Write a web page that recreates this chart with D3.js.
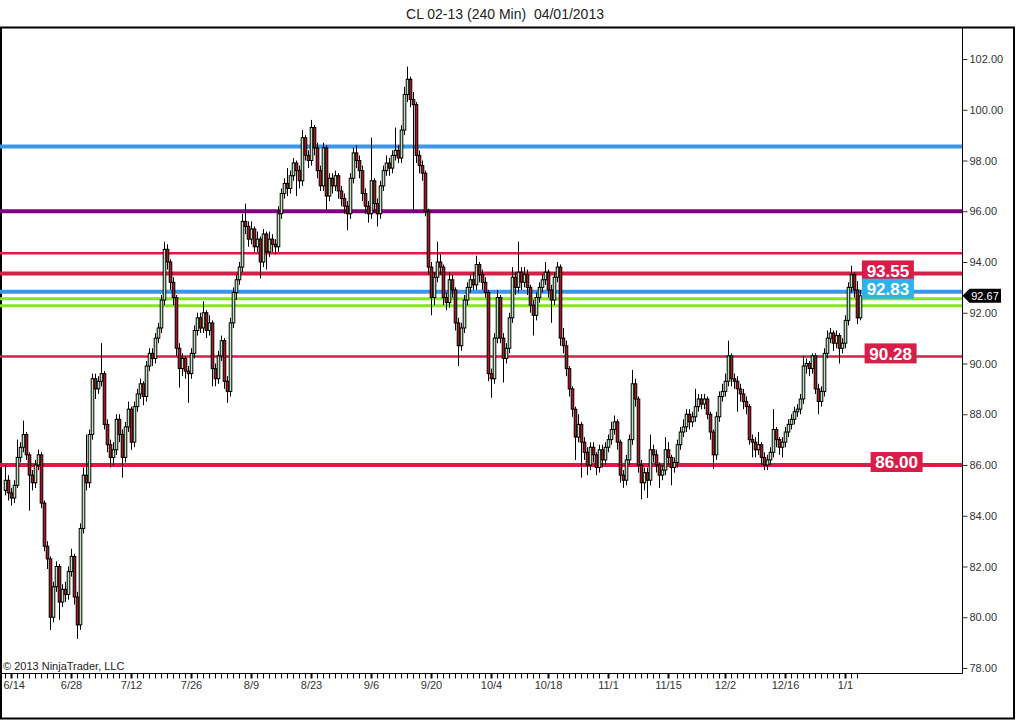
<!DOCTYPE html>
<html>
<head>
<meta charset="utf-8">
<script src="https://cdn.jsdelivr.net/npm/d3@7"></script>
<style>
  body { margin: 0; background: #fff; }
  svg { display: block; font-family: Arial, "Liberation Sans", sans-serif; }
</style>
</head>
<body>
<div id="chart"></div>
<script>
// 240 min bars of CL 02-13 (two bars per day)
var opens = [
  85.0, 85.4, 84.9, 84.7, 85.2, 86.3, 86.7, 87.2, 86.4, 85.6,
  85.3, 86.0, 86.4, 84.5, 82.8, 82.3, 80.0, 81.2, 82.0, 80.6,
  81.1, 80.9, 81.8, 82.4, 80.8, 79.7, 83.5, 85.6, 85.3, 87.2,
  89.4, 89.0, 89.3, 89.6, 87.6, 86.8, 86.3, 86.6, 87.8, 87.2,
  86.3, 87.5, 88.2, 86.9, 88.3, 88.8, 89.2, 88.7, 89.9, 90.4,
  90.2, 91.0, 91.4, 92.5, 94.5, 94.0, 93.2, 92.6, 90.6, 89.8,
  90.2, 89.7, 89.6, 90.4, 91.3, 91.8, 91.4, 92.0, 91.3, 91.6,
  89.8, 89.4, 90.3, 90.9, 89.3, 88.9, 91.6, 92.8, 93.3, 93.8,
  95.6, 95.4, 94.9, 95.3, 94.6, 94.9, 94.0, 95.1, 94.4, 94.9,
  94.7, 94.6, 95.9, 96.7, 97.1, 96.9, 97.4, 97.9, 97.6, 97.2,
  98.9, 98.2, 98.0, 99.3, 98.5, 97.6, 97.0, 98.5, 96.6, 97.3,
  97.0, 97.4, 96.8, 96.5, 96.2, 95.9, 97.3, 98.3, 98.0, 97.6,
  96.7, 96.2, 95.9, 97.2, 96.3, 95.9, 97.0, 97.6, 97.9, 97.7,
  98.2, 98.4, 98.1, 99.2, 100.6, 101.2, 100.4, 100.2, 98.2, 97.8,
  97.5, 96.0, 93.8, 92.6, 93.4, 94.0, 93.8, 92.6, 92.4, 93.3,
  92.9, 91.6, 90.7, 91.4, 92.5, 93.0, 93.3, 93.1, 93.9, 93.5,
  93.2, 92.8, 89.6, 89.4, 91.0, 92.6, 91.0, 90.2, 90.6, 91.8,
  93.4, 93.0, 93.6, 93.2, 93.5, 93.0, 92.3, 91.9, 92.6, 93.0,
  93.3, 93.6, 92.9, 92.5, 93.4, 93.8, 91.0, 90.7, 89.8, 89.0,
  88.2, 87.1, 87.6, 86.9, 86.5, 86.0, 86.7, 86.4, 85.9, 86.6,
  86.2, 86.7, 87.0, 87.4, 87.7, 86.9, 85.6, 85.4, 86.2, 87.0,
  89.2, 88.6, 86.0, 85.3, 85.7, 85.4, 86.6, 86.4, 86.0, 85.6,
  85.8, 86.6, 86.3, 85.9, 86.1, 86.8, 87.3, 87.5, 88.0, 87.7,
  87.9, 88.3, 88.6, 88.4, 88.6, 88.0, 87.3, 86.4, 87.9, 88.7,
  88.9, 89.3, 90.3, 89.4, 89.3, 89.0, 88.8, 88.5, 88.3, 87.0,
  86.9, 86.6, 86.8, 86.3, 86.0, 86.2, 86.5, 87.4, 87.0, 86.7,
  86.9, 87.3, 87.6, 87.8, 88.1, 88.2, 88.6, 89.9, 90.0, 89.8,
  90.3, 89.0, 88.5, 88.9, 90.4, 91.0, 91.2, 90.8, 91.1, 90.6,
  90.8, 91.7, 93.0, 93.5, 92.9, 91.8
];
var highs = [
  86.0, 85.6, 85.1, 85.4, 87.0, 86.9, 87.75, 87.3, 86.5, 85.8,
  86.2, 86.6, 86.5, 84.6, 83.0, 82.4, 81.4, 82.2, 82.1, 81.3,
  81.4, 82.0, 82.7, 82.5, 81.0, 83.7, 85.9, 87.2, 87.4, 89.6,
  89.6, 89.5, 90.8, 89.7, 87.8, 87.0, 86.9, 88.0, 88.0, 87.4,
  87.7, 88.5, 88.3, 88.5, 89.0, 89.4, 89.3, 90.1, 90.6, 90.6,
  91.2, 91.6, 92.7, 94.8, 94.7, 94.1, 93.4, 92.7, 90.8, 90.4,
  90.3, 89.9, 90.6, 91.5, 92.0, 92.0, 92.45, 92.1, 91.9, 91.7,
  90.0, 90.5, 91.1, 91.0, 89.5, 91.8, 93.0, 93.5, 94.0, 95.9,
  96.3, 95.6, 95.6, 95.4, 95.2, 95.0, 95.3, 95.2, 95.2, 95.1,
  94.9, 96.2, 96.9, 97.3, 97.7, 97.6, 98.1, 98.0, 97.8, 99.2,
  99.0, 98.4, 99.6, 99.4, 98.7, 97.8, 98.7, 98.6, 97.5, 97.5,
  97.6, 97.5, 97.0, 96.7, 96.4, 97.5, 98.5, 98.6, 98.2, 97.8,
  96.9, 96.4, 98.9, 97.3, 96.5, 97.2, 97.8, 98.2, 98.1, 98.4,
  99.3, 98.6, 99.4, 100.9, 101.7, 101.3, 100.7, 100.3, 98.4, 98.0,
  97.6, 96.1, 94.0, 93.6, 94.8, 94.3, 93.9, 92.8, 93.6, 93.5,
  93.0, 91.8, 91.6, 92.7, 93.2, 93.5, 93.6, 94.25, 94.0, 93.7,
  93.4, 92.9, 89.8, 91.2, 92.9, 92.7, 91.2, 90.8, 92.0, 93.8,
  93.6, 94.8, 93.8, 93.8, 93.7, 93.1, 92.5, 92.8, 93.2, 93.5,
  94.0, 93.7, 93.1, 93.6, 94.0, 93.9, 91.4, 90.9, 89.9, 89.1,
  88.3, 88.0, 87.7, 87.1, 86.7, 86.9, 86.9, 86.5, 86.8, 86.8,
  86.9, 87.2, 87.7, 87.95, 87.8, 87.0, 85.8, 86.4, 87.2, 89.75,
  89.4, 88.7, 86.2, 85.9, 85.9, 87.2, 86.8, 86.6, 86.1, 86.0,
  87.1, 86.9, 86.4, 86.3, 87.0, 87.5, 87.8, 88.2, 88.2, 88.1,
  89.0, 88.8, 88.8, 88.8, 88.7, 88.1, 87.4, 88.1, 88.9, 89.2,
  89.6, 90.9, 90.4, 89.6, 89.5, 89.2, 89.0, 88.7, 88.4, 87.2,
  87.1, 87.3, 86.9, 86.5, 86.4, 86.7, 88.2, 87.5, 87.1, 87.1,
  87.5, 87.8, 88.0, 88.3, 88.4, 88.8, 90.3, 90.2, 90.1, 90.4,
  90.4, 89.2, 89.1, 90.6, 91.3, 91.4, 91.3, 91.3, 91.2, 91.0,
  91.9, 93.2, 93.85, 93.6, 93.25, 92.9
];
var lows = [
  84.8, 84.6, 84.4, 84.5, 85.1, 86.1, 86.5, 86.2, 84.2, 85.0,
  85.1, 85.8, 84.3, 82.6, 81.9, 79.5, 79.8, 81.0, 79.9, 80.4,
  80.6, 80.7, 81.6, 80.5, 79.15, 79.5, 83.3, 85.0, 85.1, 87.0,
  88.6, 88.8, 89.1, 87.4, 86.5, 85.9, 86.0, 86.4, 86.9, 85.5,
  86.1, 87.3, 86.6, 86.7, 88.1, 88.6, 88.35, 88.5, 89.7, 89.9,
  90.0, 90.8, 91.2, 92.3, 93.7, 92.9, 92.3, 90.3, 89.05, 89.5,
  89.4, 88.45, 89.4, 90.2, 91.1, 91.2, 91.2, 91.0, 91.1, 89.1,
  89.1, 89.2, 90.1, 89.0, 88.45, 88.7, 91.4, 92.5, 93.1, 93.6,
  95.1, 94.6, 94.7, 94.4, 94.4, 93.35, 93.8, 93.7, 94.2, 94.4,
  94.3, 94.4, 95.7, 96.5, 96.6, 96.7, 97.2, 96.6, 96.9, 97.0,
  98.0, 97.7, 97.8, 98.2, 97.3, 96.8, 96.8, 96.05, 96.4, 96.7,
  96.8, 96.5, 96.2, 95.9, 95.25, 95.7, 97.1, 97.7, 97.3, 96.4,
  95.9, 95.55, 95.7, 96.0, 95.4, 95.7, 96.8, 97.4, 97.4, 97.5,
  98.0, 97.9, 97.9, 99.0, 100.3, 100.1, 96.0, 97.9, 97.5, 97.2,
  95.8, 93.5, 91.9, 92.3, 93.2, 93.5, 92.3, 92.1, 92.2, 92.6,
  91.3, 89.9, 90.5, 91.2, 92.3, 92.8, 92.9, 92.9, 93.2, 92.9,
  92.6, 89.3, 88.65, 89.2, 90.8, 90.8, 89.25, 90.0, 90.4, 91.6,
  92.7, 92.8, 92.9, 93.0, 92.7, 92.0, 91.1, 91.7, 92.4, 92.8,
  93.1, 92.6, 91.6, 92.3, 93.2, 90.7, 90.4, 89.5, 88.7, 87.9,
  86.2, 86.9, 85.5, 86.2, 85.6, 85.8, 86.1, 85.6, 85.7, 85.9,
  86.0, 86.5, 86.8, 87.2, 86.6, 85.3, 85.1, 85.2, 86.0, 86.8,
  88.3, 85.7, 84.65, 85.0, 84.7, 85.2, 86.1, 85.7, 85.1, 85.4,
  85.6, 86.0, 85.2, 85.7, 85.9, 86.6, 87.1, 87.3, 87.4, 87.5,
  87.7, 88.1, 88.2, 88.2, 87.8, 87.0, 85.85, 86.2, 87.7, 88.5,
  88.7, 89.1, 89.1, 89.0, 88.1, 88.5, 88.2, 88.0, 86.8, 86.3,
  86.3, 86.4, 86.0, 85.8, 85.8, 86.0, 86.3, 86.7, 86.4, 86.3,
  86.7, 87.1, 87.4, 87.6, 87.9, 88.0, 88.4, 89.6, 89.5, 89.6,
  88.8, 88.0, 88.3, 88.7, 90.2, 90.8, 90.5, 90.6, 90.0, 90.4,
  90.6, 91.5, 92.8, 92.6, 91.55, 91.7
];
var closes = [
  85.4, 84.9, 84.7, 85.2, 86.3, 86.7, 87.2, 86.4, 85.6, 85.3,
  86.0, 86.4, 84.5, 82.8, 82.3, 80.0, 81.2, 82.0, 80.6, 81.1,
  80.9, 81.8, 82.4, 80.8, 79.7, 83.5, 85.6, 85.3, 87.2, 89.4,
  89.0, 89.3, 89.6, 87.6, 86.8, 86.3, 86.6, 87.8, 87.2, 86.3,
  87.5, 88.2, 86.9, 88.3, 88.8, 89.2, 88.7, 89.9, 90.4, 90.2,
  91.0, 91.4, 92.5, 94.5, 94.0, 93.2, 92.6, 90.6, 89.8, 90.2,
  89.7, 89.6, 90.4, 91.3, 91.8, 91.4, 92.0, 91.3, 91.6, 89.8,
  89.4, 90.3, 90.9, 89.3, 88.9, 91.6, 92.8, 93.3, 93.8, 95.6,
  95.4, 94.9, 95.3, 94.6, 94.9, 94.0, 95.1, 94.4, 94.9, 94.7,
  94.6, 95.9, 96.7, 97.1, 96.9, 97.4, 97.9, 97.6, 97.2, 98.9,
  98.2, 98.0, 99.3, 98.5, 97.6, 97.0, 98.5, 96.6, 97.3, 97.0,
  97.4, 96.8, 96.5, 96.2, 95.9, 97.3, 98.3, 98.0, 97.6, 96.7,
  96.2, 95.9, 97.2, 96.3, 95.9, 97.0, 97.6, 97.9, 97.7, 98.2,
  98.4, 98.1, 99.2, 100.6, 101.2, 100.4, 100.2, 98.2, 97.8, 97.5,
  96.0, 93.8, 92.6, 93.4, 94.0, 93.8, 92.6, 92.4, 93.3, 92.9,
  91.6, 90.7, 91.4, 92.5, 93.0, 93.3, 93.1, 93.9, 93.5, 93.2,
  92.8, 89.6, 89.4, 91.0, 92.6, 91.0, 90.2, 90.6, 91.8, 93.4,
  93.0, 93.6, 93.2, 93.5, 93.0, 92.3, 91.9, 92.6, 93.0, 93.3,
  93.6, 92.9, 92.5, 93.4, 93.8, 91.0, 90.7, 89.8, 89.0, 88.2,
  87.1, 87.6, 86.9, 86.5, 86.0, 86.7, 86.4, 85.9, 86.6, 86.2,
  86.7, 87.0, 87.4, 87.7, 86.9, 85.6, 85.4, 86.2, 87.0, 89.2,
  88.6, 86.0, 85.3, 85.7, 85.4, 86.6, 86.4, 86.0, 85.6, 85.8,
  86.6, 86.3, 85.9, 86.1, 86.8, 87.3, 87.5, 88.0, 87.7, 87.9,
  88.3, 88.6, 88.4, 88.6, 88.0, 87.3, 86.4, 87.9, 88.7, 88.9,
  89.3, 90.3, 89.4, 89.3, 89.0, 88.8, 88.5, 88.3, 87.0, 86.9,
  86.6, 86.8, 86.3, 86.0, 86.2, 86.5, 87.4, 87.0, 86.7, 86.9,
  87.3, 87.6, 87.8, 88.1, 88.2, 88.6, 89.9, 90.0, 89.8, 90.3,
  89.0, 88.5, 88.9, 90.4, 91.0, 91.2, 90.8, 91.1, 90.6, 90.8,
  91.7, 93.0, 93.5, 92.9, 91.8, 92.67
];

// date labels on the time axis and the bar each one sits under
var dateLabels = ["6/14", "6/28", "7/12", "7/26", "8/9", "8/23", "9/6", "9/20",
                  "10/4", "10/18", "11/1", "11/15", "12/2", "12/16", "1/1"];
var dateBars = [2, 22, 42, 62, 82, 102, 122, 142, 162, 181, 201, 221, 240, 260, 280];

// price axis ticks
var priceTicks = [78, 80, 82, 84, 86, 88, 90, 92, 94, 96, 98, 100, 102];

// horizontal lines drawn on the chart
var levelPrices = [98.55, 96.00, 94.34, 93.55, 92.83, 92.55, 92.28, 90.28, 86.00];
var levelColors = ["#3d95e8", "#800080", "#d81e48", "#d81e48", "#3d95e8",
                   "#86e61e", "#86e61e", "#d81e48", "#d81e48"];
var levelWidths = [4, 4, 2.5, 4, 4, 3, 3, 2.5, 4];

// boxed price tags and the bar they are centred on
var tagPrices = [93.55, 92.83, 90.28, 86.00];
var tagBars = [294.3, 294.3, 295.2, 297.2];
var tagColors = ["#d81e48", "#2eb2ec", "#d81e48", "#d81e48"];

var lastPrice = 92.67;

// set the dimensions of the page and plot
var width = 1016, height = 720;
var plot = {left: 0, right: 962.5, top: 27.5, bottom: 673.5};

var svg = d3.select("#chart").append("svg")
    .attr("width", width)
    .attr("height", height);

// bars are spaced evenly by index, prices linear
var x = d3.scaleLinear().domain([0, closes.length - 1]).range([5, 860]);
var y = d3.scaleLinear().domain([78, 102]).range([668, 59]);

// title
svg.append("text")
    .attr("x", 505)
    .attr("y", 19)
    .attr("text-anchor", "middle")
    .attr("font-size", "14px")
    .attr("fill", "#222")
    .style("white-space", "pre")
    .text("CL 02-13 (240 Min)  04/01/2013");

// outer frame
svg.append("rect")
    .attr("x", 1).attr("y", 27.5)
    .attr("width", 1013).attr("height", 691)
    .attr("fill", "none")
    .attr("stroke", "#000")
    .attr("stroke-width", 2);

var chart = svg.append("g");

// level lines (behind the candles)
chart.selectAll(".level")
    .data(levelPrices)
  .enter().append("line")
    .attr("class", "level")
    .attr("x1", plot.left)
    .attr("x2", plot.right)
    .attr("y1", function(d) { return y(d); })
    .attr("y2", function(d) { return y(d); })
    .attr("stroke", function(d, i) { return levelColors[i]; })
    .attr("stroke-width", function(d, i) { return levelWidths[i]; });

// candles
var bars = d3.range(closes.length);
var candle = chart.selectAll(".candle")
    .data(bars)
  .enter().append("g")
    .attr("class", "candle");

candle.append("line")
    .attr("x1", function(i) { return Math.round(x(i)) + 0.5; })
    .attr("x2", function(i) { return Math.round(x(i)) + 0.5; })
    .attr("y1", function(i) { return y(highs[i]); })
    .attr("y2", function(i) { return y(lows[i]); })
    .attr("stroke", "#000")
    .attr("stroke-width", 1);

candle.append("rect")
    .attr("x", function(i) { return Math.round(x(i)) - 0.8; })
    .attr("width", 2.6)
    .attr("y", function(i) { return y(Math.max(opens[i], closes[i])); })
    .attr("height", function(i) {
        return Math.max(1, Math.abs(y(opens[i]) - y(closes[i])));
    })
    .attr("fill", function(i) { return closes[i] >= opens[i] ? "#bfe6bf" : "#a8161e"; })
    .attr("stroke", "#000")
    .attr("stroke-width", 1);

// price tags
var tag = chart.selectAll(".tag")
    .data(tagPrices)
  .enter().append("g")
    .attr("class", "tag")
    .attr("transform", function(d, i) {
        return "translate(" + x(tagBars[i]) + "," + (y(d) - 3) + ")";
    });

tag.append("rect")
    .attr("x", -26).attr("y", -10)
    .attr("width", 52).attr("height", 20)
    .attr("fill", function(d, i) { return tagColors[i]; });

tag.append("text")
    .attr("text-anchor", "middle")
    .attr("dy", "0.36em")
    .attr("font-size", "17px")
    .attr("font-weight", "bold")
    .attr("fill", "#fff")
    .text(function(d) { return d3.format(".2f")(d); });

// price axis
var yAxis = svg.append("g")
    .attr("transform", "translate(" + plot.right + ",0)")
    .call(d3.axisRight(y)
        .tickValues(priceTicks)
        .tickSize(5)
        .tickPadding(2)
        .tickFormat(d3.format(".2f")));
yAxis.select(".domain").remove();
yAxis.selectAll("text").attr("font-size", "11px").attr("fill", "#333");
yAxis.selectAll("line").attr("stroke", "#333");

svg.append("line")
    .attr("x1", plot.right).attr("x2", plot.right)
    .attr("y1", plot.top).attr("y2", plot.bottom)
    .attr("stroke", "#000");

// last price marker
var yLast = y(lastPrice);
svg.append("path")
    .attr("d", "M" + plot.right + "," + yLast +
               "L" + (plot.right + 7) + "," + (yLast - 7) +
               "L" + 1001 + "," + (yLast - 7) +
               "L" + 1001 + "," + (yLast + 7) +
               "L" + (plot.right + 7) + "," + (yLast + 7) + "Z")
    .attr("fill", "#000");
svg.append("text")
    .attr("x", 985)
    .attr("y", yLast)
    .attr("dy", "0.36em")
    .attr("text-anchor", "middle")
    .attr("font-size", "11px")
    .attr("fill", "#fff")
    .text(d3.format(".2f")(lastPrice));

// time axis: a tick per day, labels every two weeks
var dayBars = d3.range(0, closes.length, 2)
    .filter(function(b) {
        return !dateBars.some(function(d) { return Math.abs(d - b) === 1; });
    })
    .concat(dateBars)
    .filter(function(b, i, a) { return a.indexOf(b) === i; })
    .sort(d3.ascending);

var xAxis = svg.append("g")
    .attr("transform", "translate(0," + plot.bottom + ")")
    .call(d3.axisBottom(x)
        .tickValues(dayBars)
        .tickSize(5)
        .tickPadding(3)
        .tickFormat(function(d) {
            var k = dateBars.indexOf(d);
            return k < 0 ? "" : dateLabels[k];
        }));
xAxis.select(".domain").remove();
xAxis.selectAll("line").attr("stroke", "#000");
xAxis.selectAll(".tick")
    .filter(function(d) { return dateBars.indexOf(d) >= 0; })
    .select("line").attr("stroke-width", 2);
xAxis.selectAll("text")
    .attr("font-size", "11px")
    .attr("fill", "#333");
// first label is pushed inside the frame
xAxis.selectAll("text")
    .filter(function(d) { return d === dateBars[0]; })
    .attr("text-anchor", "start")
    .attr("x", -8);

svg.append("line")
    .attr("x1", plot.left).attr("x2", plot.right)
    .attr("y1", plot.bottom).attr("y2", plot.bottom)
    .attr("stroke", "#000");

// copyright
svg.append("text")
    .attr("x", 3)
    .attr("y", 670)
    .attr("font-size", "11px")
    .attr("fill", "#222")
    .text("\u00a9 2013 NinjaTrader, LLC");
</script>
</body>
</html>
